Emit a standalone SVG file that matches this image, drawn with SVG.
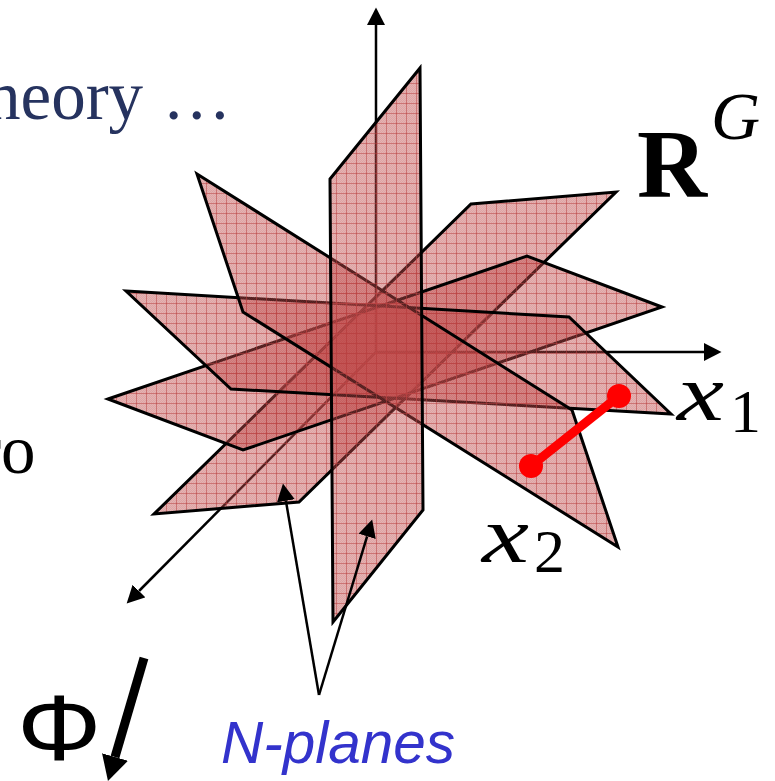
<svg xmlns="http://www.w3.org/2000/svg" width="775" height="781" viewBox="0 0 775 781">
  <style>
    .plane { fill: url(#mesh); stroke: #000; stroke-width: 3; stroke-linejoin: miter; }
    .axis { fill: none; stroke: #000; stroke-width: 2.500; }
    .call { fill: none; stroke: #000; stroke-width: 2.500; }
    .serif { font-family: "Liberation Serif", "Times New Roman", serif; }
    .ital { font-family: "Liberation Serif", "Times New Roman", serif; font-style: italic; fill: #000; }
  </style>
  <defs>
    <pattern id="mesh" patternUnits="userSpaceOnUse" x="6" y="3" width="10" height="10">
      <rect width="10" height="10" fill="#bf4a4a" fill-opacity="0.42"/>
      <path d="M1 1h1v1h-1zM3 1h1v1h-1zM5 1h1v1h-1zM7 1h1v1h-1zM9 1h1v1h-1zM2 2h1v1h-1zM4 2h1v1h-1zM6 2h1v1h-1zM8 2h1v1h-1zM1 3h1v1h-1zM3 3h1v1h-1zM5 3h1v1h-1zM7 3h1v1h-1zM9 3h1v1h-1zM2 4h1v1h-1zM4 4h1v1h-1zM6 4h1v1h-1zM8 4h1v1h-1zM1 5h1v1h-1zM3 5h1v1h-1zM5 5h1v1h-1zM7 5h1v1h-1zM9 5h1v1h-1zM2 6h1v1h-1zM4 6h1v1h-1zM6 6h1v1h-1zM8 6h1v1h-1zM1 7h1v1h-1zM3 7h1v1h-1zM5 7h1v1h-1zM7 7h1v1h-1zM9 7h1v1h-1zM2 8h1v1h-1zM4 8h1v1h-1zM6 8h1v1h-1zM8 8h1v1h-1zM1 9h1v1h-1zM3 9h1v1h-1zM5 9h1v1h-1zM7 9h1v1h-1zM9 9h1v1h-1z" fill="#bf4a4a" fill-opacity="0.14"/>
      <path d="M0.5 0V10M0 0.5H10" stroke="#b84040" stroke-opacity="0.55" stroke-width="1" fill="none"/>
    </pattern>
    <marker id="head" markerUnits="userSpaceOnUse" markerWidth="18" markerHeight="18" refX="0" refY="9" orient="auto" viewBox="0 0 18 18">
      <path d="M0 0L17.500 9L0 18Z" fill="#000"/>
    </marker>
    <marker id="headBig" markerUnits="userSpaceOnUse" markerWidth="25" markerHeight="27" refX="0" refY="13.500" orient="auto" viewBox="0 0 25 27">
      <path d="M0 0L25 13.500L0 27Z" fill="#000"/>
    </marker>
  </defs>

  <g id="axes">
    <path class="axis" d="M376 352V25" marker-end="url(#head)"/>
    <path class="axis" d="M376 352H704" marker-end="url(#head)"/>
    <path class="axis" d="M376 352L139 591" marker-end="url(#head)"/>
  </g>

  <g id="plane-d"><polygon class="plane" points="471,204 616,192 299,502 154,514"/></g>
  <g id="plane-c"><polygon class="plane" points="108,399 527,256 662,307 243,450"/></g>
  <g id="plane-b"><polygon class="plane" points="126,291 569,317 671,414 231,389"/></g>
  <g id="plane-a"><polygon class="plane" points="197,174 572,410 618,547 243,312"/></g>
  <g id="plane-v"><polygon class="plane" points="330,179 420,68 423,510 333,622"/></g>

  <g id="segment">
    <path d="M531 466L619 396" stroke="#f00" stroke-width="9" fill="none"/>
    <circle cx="531" cy="466" r="12" fill="#f00"/>
    <circle cx="619" cy="396" r="12" fill="#f00"/>
  </g>

  <g id="connectors">
    <path class="call" d="M319 695L285.900 500.800" marker-end="url(#head)"/>
    <path class="call" d="M319 695L367.100 536.300" marker-end="url(#head)"/>
    <path d="M144 658L115 757" fill="none" stroke="#000" stroke-width="9" marker-end="url(#headBig)"/>
  </g>

  <g id="label-theory"><text class="serif" x="-14" y="119" font-size="69" word-spacing="2" fill="#26335f">heory …</text></g>
  <g id="label-ro"><text class="serif" x="-22" y="473" font-size="69" fill="#000">ro</text></g>
  <g id="label-rg">
    <text class="serif" x="637" y="197" font-size="97" font-weight="bold" fill="#000">R</text>
    <text class="ital" x="711" y="139" font-size="68">G</text>
  </g>
  <g id="label-x1">
    <text class="ital" x="677" y="420" font-size="80" textLength="47" lengthAdjust="spacingAndGlyphs">x</text>
    <text class="serif" x="730" y="432" font-size="62" fill="#000">1</text>
  </g>
  <g id="label-x2">
    <text class="ital" x="482" y="562" font-size="80" textLength="47" lengthAdjust="spacingAndGlyphs">x</text>
    <text class="serif" x="534" y="572" font-size="62" fill="#000">2</text>
  </g>
  <g id="label-phi"><text transform="translate(17 760) scale(1.15 1)" font-family="Liberation Sans, Arial, sans-serif" font-size="92" fill="#000">Φ</text></g>
  <g id="label-nplanes"><text x="221" y="763" font-family="Liberation Sans, Arial, sans-serif" font-style="italic" font-size="58.500" fill="#3333cc">N-planes</text></g>
</svg>
